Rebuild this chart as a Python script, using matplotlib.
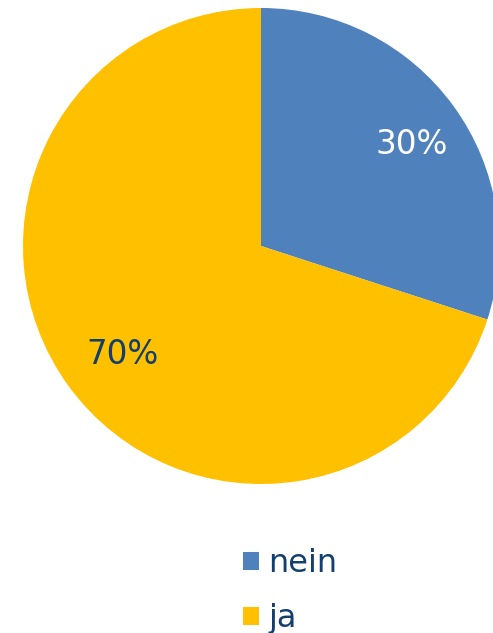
import matplotlib
matplotlib.use("Agg")
import matplotlib.pyplot as plt
import matplotlib.transforms as mtransforms
from matplotlib.patches import Patch

labels = ["nein", "ja"]
values = [30, 70]
colors = ["#4F81BD", "#FFC000"]
pct_colors = ["white", "#133F6D"]

W, H = 493, 633
cx, cy, r = 261, 246, 238  # pie centre / radius in px (from top-left)

fig = plt.figure(figsize=(W / 100, H / 100), dpi=100)
ax = fig.add_axes([0, 0, 1, 1])

wedges, texts, autotexts = ax.pie(
    values,
    colors=colors,
    startangle=90,
    counterclock=False,
    autopct="%1.0f%%",
    pctdistance=0.75,
    radius=1,
    wedgeprops=dict(linewidth=0),
)
# labels sit a few px right of the wedge centroid in the original
shift = mtransforms.offset_copy(ax.transData, fig=fig, x=6, y=0, units="dots")
for t, c in zip(autotexts, pct_colors):
    t.set_color(c)
    t.set_fontsize(23.5)
    t.set_va("center_baseline")
    t.set_transform(shift)

ax.set_aspect("auto")
ax.set_xlim(-cx / r, (W - cx) / r)
ax.set_ylim(-(H - cy) / r, cy / r)
ax.axis("off")

handles = [Patch(facecolor=c, edgecolor="none") for c in colors]
leg = fig.legend(
    handles,
    labels,
    loc="upper left",
    bbox_to_anchor=(243 / W, 1 - 548 / H),
    frameon=False,
    fontsize=23,
    handlelength=0.5,
    handleheight=0.5,
    handletextpad=0.3,
    labelspacing=0.75,
    borderpad=0,
    borderaxespad=0,
)
for t in leg.get_texts():
    t.set_color("#133F6D")

fig.savefig("out.png", dpi=100)
